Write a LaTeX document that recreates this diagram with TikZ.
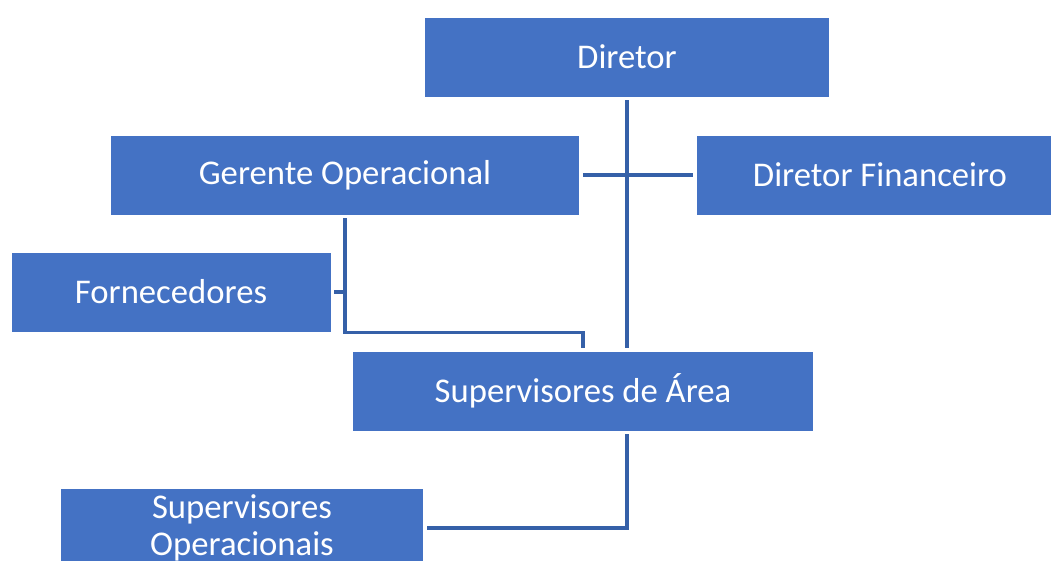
\documentclass[tikz,border=0pt]{standalone}
\usepackage{fontspec}
\setmainfont{Carlito}
\definecolor{boxblue}{HTML}{4472C4}
\definecolor{lineblue}{HTML}{3560A8}
\begin{document}
\begin{tikzpicture}[x=0.75pt,y=-0.75pt,
  orgbox/.style={fill=boxblue,draw=white,line width=0.6pt,text=white,font=\fontsize{26}{28}\selectfont,
    minimum width=#1*0.75pt,minimum height=80*0.75pt,inner sep=0pt,align=center},
  link/.style={draw=lineblue,line width=2.5pt,shorten <=3*0.75pt,shorten >=3*0.75pt}]
\useasboundingbox (0,0) rectangle (1051,561);
\node[orgbox=405] (dir) at (627,57) {Diretor};
\node[orgbox=469] (go) at (345,175) {Gerente Operacional};
\node[orgbox=368] (df) at (880,175) {Diretor Financeiro};
\node[orgbox=320] (fo) at (171,292) {Fornecedores};
\node[orgbox=461] (sa) at (583,391) {Supervisores de Área};
\node[orgbox=363] (so) at (242,528) {Supervisores\\Operacionais};
\draw[link] (dir.south) -- (dir.south |- sa.north);
\draw[link] (go.east) -- (df.west);
\draw[link] (go.south) -- (go.south |- fo.south) -| (sa.north);
\draw[link,shorten >=0pt] (fo.east) -- (fo.east -| go.south);
\draw[link] (dir.south |- sa.south) |- (so.east);
\end{tikzpicture}
\end{document}
